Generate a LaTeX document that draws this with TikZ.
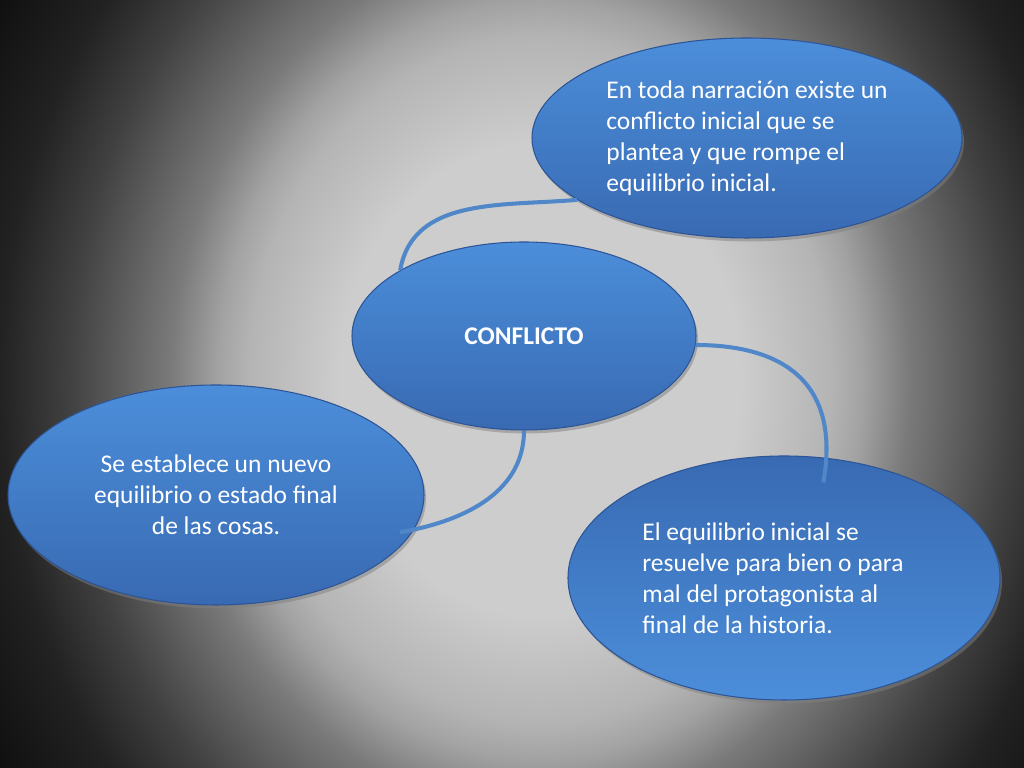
\documentclass[tikz,border=0pt]{standalone}
\usepackage{fontspec}
\setmainfont{Carlito}
\usetikzlibrary{shapes.geometric,shadows}

\definecolor{bubbletop}{RGB}{76,142,218}
\definecolor{bubblebot}{RGB}{56,106,178}
\definecolor{bubbleedge}{RGB}{44,84,150}
\definecolor{linkblue}{RGB}{80,135,200}
\definecolor{bgA}{RGB}{205,205,205}
\definecolor{bgB}{RGB}{180,180,180}
\definecolor{bgC}{RGB}{162,162,162}
\definecolor{bgD}{RGB}{122,122,122}
\definecolor{bgE}{RGB}{65,65,65}
\definecolor{bgF}{RGB}{34,34,34}
\definecolor{bgG}{RGB}{12,12,12}

% 25bp = rim of the ellipse
\pgfdeclareradialshading{slideglow}{\pgfpoint{0bp}{0bp}}{color(0bp)=(bgA); color(7.7bp)=(bgA); color(11.2bp)=(bgB); color(12.4bp)=(bgC); color(14.2bp)=(bgD); color(18.1bp)=(bgE); color(20.8bp)=(bgF); color(25bp)=(bgG); color(50bp)=(bgG)}

\tikzset{
	bubble/.style={ellipse, draw=bubbleedge, line width=.6pt, top color=bubbletop, bottom color=bubblebot, text=white, inner sep=2pt, font=\fontsize{14.5}{17.6}\selectfont, drop shadow={opacity=.5, shadow xshift=.04cm, shadow yshift=-.07cm}},
	bubbleflip/.style={bubble, top color=bubblebot, bottom color=bubbletop},
	link/.style={draw=linkblue, line width=2.3pt}
}

\begin{document}
\begin{tikzpicture}
	\useasboundingbox(0, 0) rectangle (20.48, 15.36);
	\fill[bgG](0, 0) rectangle (20.48, 15.36);
	\begin{scope}
		\clip(0, 0) rectangle (20.48, 15.36);
		\shade[shading=slideglow](10.8, 7.76) ellipse (13 and 15.3);
	\end{scope}

		\node[bubble, minimum width=8.6cm, minimum height=4cm, align=left] (inicio) at(14.94, 12.6){En toda narración existe un\\ conflicto inicial que se\\ plantea y que rompe el\\ equilibrio inicial.};
		\node[bubble, minimum width=6.88cm, minimum height=3.76cm] (conflicto) at(10.48, 8.64){\bfseries CONFLICTO};
		\node[bubble, minimum width=8.32cm, minimum height=4.4cm, align=center] (final) at(4.32, 5.46){Se establece un nuevo\\ equilibrio o estado final\\ de las cosas.};
		\node[bubbleflip, minimum width=8.64cm, minimum height=4.88cm, align=left] (desenlace) at(15.68, 3.8){El equilibrio inicial se\\ resuelve para bien o para\rule{.44cm}{0pt}\\ mal del protagonista al\\ final de la historia.};

	\draw[link](conflicto.152) to[out=80, in=185] (inicio.200);
	\draw[link, shorten >=-.5cm](conflicto.-3) to[out=0, in=80, looseness=1.2] (desenlace.70);
	\draw[link, shorten >=-.28cm](conflicto.-90) to[out=-90, in=10] (final.-10);
\end{tikzpicture}
\end{document}
